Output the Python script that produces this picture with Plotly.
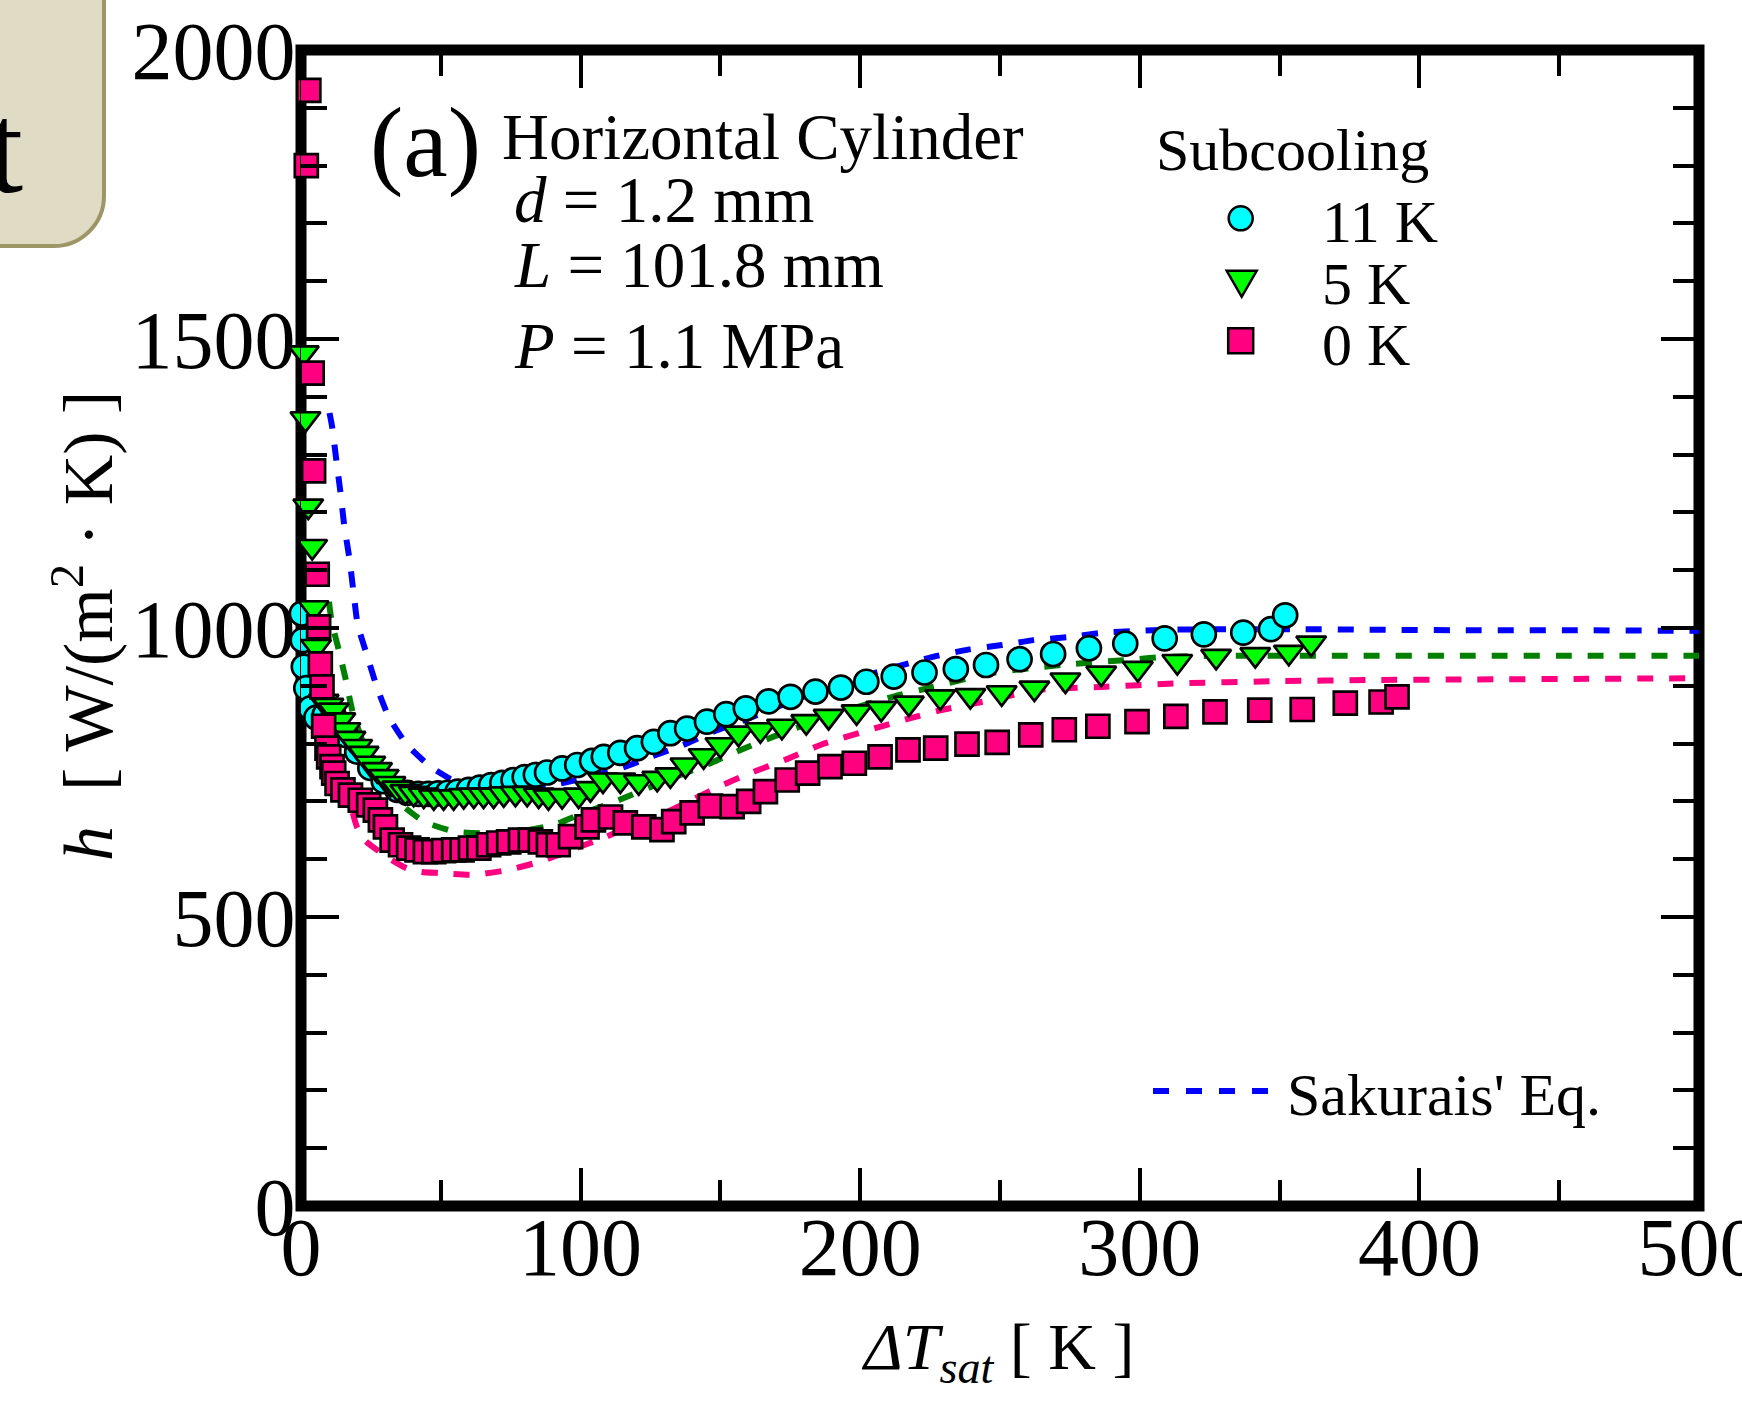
import plotly.graph_objects as go

# ---------------- data ----------------
# Subcooling 11 K (cyan circles)
cyan_dT = [0.3, 0.6, 1.0, 1.9, 3.4, 5.5, 8.5, 11.7, 15.9, 20.1, 24.8, 29.6, 34.4, 38.0, 42.0,
           45.5, 49.0, 52.5, 56.0, 60.0, 64.0, 68.0, 72.0, 76.0, 80.0, 84.0, 88.0, 93.4, 98.8, 104.1,
           108.3, 114.2, 120.2, 126.2, 132.1, 138.1, 145.2, 152.1, 159.1, 167.2, 175.1, 184.0, 193.1,
           202.2, 212.0, 223.0, 234.2, 245.0, 257.0, 269.0, 281.8, 294.8, 308.9, 322.9, 337.0, 346.9, 352.0]
cyan_h = [1025, 979, 933, 896, 861, 845, 850, 848, 815, 786, 758, 735, 720, 715, 713,
          713, 714, 715, 717, 720, 724, 728, 732, 737, 742, 746, 750, 757, 763, 770,
          777, 784, 792, 803, 818, 826, 838, 851, 861, 873, 881, 890, 897,
          907, 916, 923, 929, 936, 946, 955, 965, 973, 982, 989, 992, 998, 1022]

# Subcooling 5 K (green triangles)
green_dT = [1.0, 1.6, 2.6, 4.0, 4.5, 5.4, 8.1, 9.8, 11.7, 14.1, 15.9, 17.7, 20.1, 22.4, 24.8,
            27.2, 29.6, 32.0, 34.4, 37.3, 40.3, 43.9, 47.5, 51.0, 54.6, 58.2, 61.8, 65.3, 68.9, 72.5,
            76.7, 80.9, 85.0, 88.5, 93.4, 99.3, 103.5, 108.0, 114.2, 120.8, 127.4, 132.1, 137.5, 144.0,
            150.0, 156.5, 164.3, 172.0, 180.7, 188.7, 198.7, 207.5, 217.4, 228.6, 239.4, 250.6, 262.3,
            273.4, 286.2, 299.3, 313.4, 327.3, 341.3, 353.3, 361.3]
green_h = [1476, 1362, 1211, 1141, 1035, 968, 873, 866, 858, 841, 824, 809, 795, 783, 766,
           755, 743, 731, 723, 717, 714, 711, 708, 708, 708, 710, 711, 711, 711, 713,
           714, 714, 711, 708, 710, 711, 722, 737, 737, 734, 740, 746, 763, 779,
           798, 818, 824, 830, 838, 847, 855, 861, 870, 881, 883, 888, 896,
           910, 922, 930, 942, 951, 954, 958, 974]

# Subcooling 0 K (pink squares)
pink_dT = [1.9, 2.8, 4.0, 4.5, 5.8, 6.3, 6.9, 7.5, 8.1, 9.3, 9.9, 11.1, 11.7, 12.9, 15.0,
           17.7, 21.2, 24.2, 26.6, 28.4, 30.2, 32.6, 35.6, 38.5, 41.5, 44.5, 47.5, 51.0, 54.6, 57.6,
           60.6, 63.6, 67.1, 70.7, 74.3, 78.5, 82.0, 85.6, 88.5, 92.0, 96.4, 102.3, 104.6, 110.7, 116.0,
           122.6, 129.1, 133.3, 139.9, 146.4, 154.2, 160.1, 166.1, 173.9, 181.2, 189.2, 197.9, 207.1,
           217.1, 227.0, 238.2, 249.0, 261.0, 273.0, 285.0, 299.0, 312.9, 326.9, 342.9, 358.1, 373.5,
           386.3, 392.0]
pink_h = [1800, 1930, 1441, 1272, 1093, 1002, 938, 898, 830, 792, 777, 760, 749, 731, 720,
          711, 702, 694, 685, 668, 656, 633, 625, 619, 616, 613, 613, 615, 616, 616,
          619, 619, 625, 628, 630, 633, 633, 630, 625, 625, 639, 656, 668, 673, 663,
          656, 651, 665, 680, 692, 691, 700, 717, 737, 749, 760, 766, 777,
          789, 792, 799, 802, 815, 824, 830, 838, 847, 855, 858, 859, 870,
          872, 881]

# Sakurai's equation curves
sak11_dT = [10.2, 11.1, 12.7, 14.1, 15.5, 17.3, 18.8, 20.3, 23.6, 27.2, 31.4, 37.9, 46.3, 54.6, 65.0,
            78.0, 92.7, 114.2, 125.0, 136.9, 147.6, 157.2, 169.0, 186.0, 205.0, 226.0, 239.0, 250.0,
            262.0, 274.0, 287.0, 299.0, 310.5, 334.0, 357.0, 382.0, 420.0, 460.0, 500.0]
sak11_h = [1372, 1349, 1288, 1235, 1176, 1121, 1061, 1005, 953, 897, 846, 798, 760, 736, 725,
           725, 731, 757, 777, 798, 821, 838, 861, 893, 922, 950, 963, 970,
           979, 984, 992, 995, 997, 998, 998, 997, 996, 996, 995]

sak5_dT = [10.0, 11.0, 13.5, 15.9, 18.3, 21.9, 26.0, 31.0, 37.0, 44.0, 54.6, 65.0, 78.0, 90.4, 100.0,
           113.6, 130.0, 146.4, 157.2, 169.0, 190.0, 211.6, 226.0, 248.0, 272.0, 296.0, 309.0, 334.5,
           369.6, 420.0, 460.0, 500.0]
sak5_h = [1045, 1010, 962, 913, 858, 806, 762, 722, 690, 665, 648, 645, 648, 659, 678,
          702, 735, 766, 789, 812, 850, 881, 898, 923, 936, 945, 950, 952,
          952, 952, 952, 952]

sak0_dT = [18.5, 20.0, 23.0, 27.2, 32.0, 37.9, 43.0, 49.9, 61.2, 73.7, 85.6, 96.0, 107.7, 118.0, 129.7,
           140.0, 150.6, 160.7, 173.2, 186.0, 207.0, 218.0, 229.0, 243.4, 264.0, 286.5, 312.0, 350.0,
           382.0, 420.0, 460.0, 500.0]
sak0_h = [680, 656, 632, 616, 600, 584, 578, 576, 573, 581, 596, 615, 636, 657, 679,
          703, 728, 749, 772, 798, 829, 844, 858, 872, 893, 898, 904, 908,
          910, 911, 912, 913]

x_ticks = [0, 100, 200, 300, 400, 500]
y_ticks = [0, 500, 1000, 1500, 2000]
series_labels = ["11 K", "5 K", "0 K"]

# ---------------- styling / layout ----------------
W, H = 1742, 1401
ML, MR, MT, MB = 301, 43, 50, 195
PW = W - ML - MR
PH = H - MT - MB
FONT = "Liberation Serif"

CYAN = "#00FFFF"
LIME = "#00FF00"
PINK = "#FF0080"
BLUE = "#0000FF"
DGREEN = "#008000"


def px(x):
    return (x - ML) / PW


def py(y):
    return (H - MB - y) / PH


fig = go.Figure()

line_dash = "16px,16px"
for xs, ys, col in [(sak11_dT, sak11_h, BLUE), (sak5_dT, sak5_h, DGREEN), (sak0_dT, sak0_h, PINK)]:
    fig.add_trace(go.Scatter(x=xs, y=ys, mode="lines", showlegend=False,
                             line=dict(color=col, width=6, dash=line_dash, shape="spline", smoothing=0.5),
                             cliponaxis=False, hoverinfo="skip"))

fig.add_trace(go.Scatter(x=cyan_dT, y=cyan_h, mode="markers", name=series_labels[0], showlegend=False,
                         marker=dict(symbol="circle", size=24, color=CYAN, line=dict(color="black", width=2.7)),
                         cliponaxis=False))
fig.add_trace(go.Scatter(x=green_dT, y=green_h, mode="markers", name=series_labels[1], showlegend=False,
                         marker=dict(symbol="triangle-down", size=26, color=LIME, line=dict(color="black", width=2.7)),
                         cliponaxis=False))
fig.add_trace(go.Scatter(x=pink_dT, y=pink_h, mode="markers", name=series_labels[2], showlegend=False,
                         marker=dict(symbol="square", size=23, color=PINK, line=dict(color="black", width=2.7)),
                         cliponaxis=False))

tickfont = dict(family=FONT, size=82, color="black")
axis_common = dict(ticks="inside", ticklen=38, tickwidth=4, tickcolor="black",
                   showline=True, linewidth=1, linecolor="black", mirror="ticks",
                   showgrid=False, zeroline=False, tickfont=tickfont,
                   ticklabeloverflow="allow", automargin=False)

fig.update_xaxes(range=[0, 500], tickmode="array", tickvals=x_ticks,
                 ticktext=[str(v) for v in x_ticks], ticklabelstandoff=-30,
                 minor=dict(ticks="inside", ticklen=26, tickwidth=4, tickcolor="black", dtick=50, tick0=0),
                 **axis_common)
fig.update_yaxes(range=[0, 2000], tickmode="array", tickvals=y_ticks,
                 ticktext=[str(v) for v in y_ticks], ticklabelstandoff=-12,
                 minor=dict(ticks="inside", ticklen=26, tickwidth=4, tickcolor="black", dtick=100, tick0=0),
                 **axis_common)


def ann(text, x, y, size, xanchor="left", **kw):
    return dict(text=text, x=px(x), y=py(y), xref="paper", yref="paper", showarrow=False,
                font=dict(family=FONT, size=size, color="black"), xanchor=xanchor, yanchor="middle", **kw)


annotations = [
    ann("(a)", 425, 143, 100, xanchor="center"),
    ann("Horizontal Cylinder", 500, 137, 65),
    ann("<i>d</i> = 1.2 mm", 512, 200, 65),
    ann("<i>L</i> = 101.8 mm", 512, 265, 65),
    ann("<i>P</i> = 1.1 MPa", 512, 346, 65),
    ann("Subcooling", 1154, 150, 60),
    ann(series_labels[0], 1320, 222, 60),
    ann(series_labels[1], 1320, 284, 60),
    ann(series_labels[2], 1320, 345, 60),
    ann("Sakurais' Eq.", 1285, 1095, 60),
    ann("<i>ΔT</i><sub><i>sat</i></sub> [ K ]", 997, 1351, 66, xanchor="center"),
    ann("<i>h</i>  [ W/(m<sup>2</sup> · K) ]", 83, 626, 70, xanchor="center", textangle=-90),
    ann("t", 5, 148, 130, xanchor="center"),
]

# box fragment at top-left
xr, yb = px(104), py(246)
rx, ry = 50 / PW, 50 / PH
xl, yt = px(-40), py(-30)
box_path = (f"M{xl},{yt} L{xr},{yt} L{xr},{yb + ry} "
            f"C{xr},{yb + ry * 0.45} {xr - rx * 0.45},{yb} {xr - rx},{yb} L{xl},{yb} Z")

shapes = [
    dict(type="rect", xref="paper", yref="paper", x0=0, x1=1, y0=0, y1=1,
         line=dict(color="black", width=11), fillcolor="rgba(0,0,0,0)", layer="below"),
    dict(type="path", xref="paper", yref="paper", path=box_path,
         line=dict(color="#9E9566", width=4), fillcolor="#DFDBC5", layer="above"),
    # legend keys
    dict(type="circle", xref="paper", yref="paper", xsizemode="pixel", ysizemode="pixel",
         xanchor=px(1240.7), yanchor=py(218.3), x0=-12, x1=12, y0=-12, y1=12,
         fillcolor=CYAN, line=dict(color="black", width=2.5)),
    dict(type="path", xref="paper", yref="paper", xsizemode="pixel", ysizemode="pixel",
         xanchor=px(1241.7), yanchor=py(283.3), path="M-15,12.5 L15,12.5 L0,-13.5 Z",
         fillcolor=LIME, line=dict(color="black", width=2.5)),
    dict(type="rect", xref="paper", yref="paper", xsizemode="pixel", ysizemode="pixel",
         xanchor=px(1240.7), yanchor=py(340.7), x0=-12.5, x1=12.5, y0=-12.5, y1=12.5,
         fillcolor=PINK, line=dict(color="black", width=2.5)),
    dict(type="line", xref="paper", yref="paper", x0=px(1153), x1=px(1270), y0=py(1091), y1=py(1091),
         line=dict(color=BLUE, width=6, dash="16px,17px")),
]

fig.update_layout(width=W, height=H, autosize=False,
                  margin=dict(l=ML, r=MR, t=MT, b=MB, pad=0, autoexpand=False),
                  paper_bgcolor="white", plot_bgcolor="rgba(0,0,0,0)",
                  showlegend=False, annotations=annotations, shapes=shapes,
                  font=dict(family=FONT, color="black"))

fig.write_html("out.html")
